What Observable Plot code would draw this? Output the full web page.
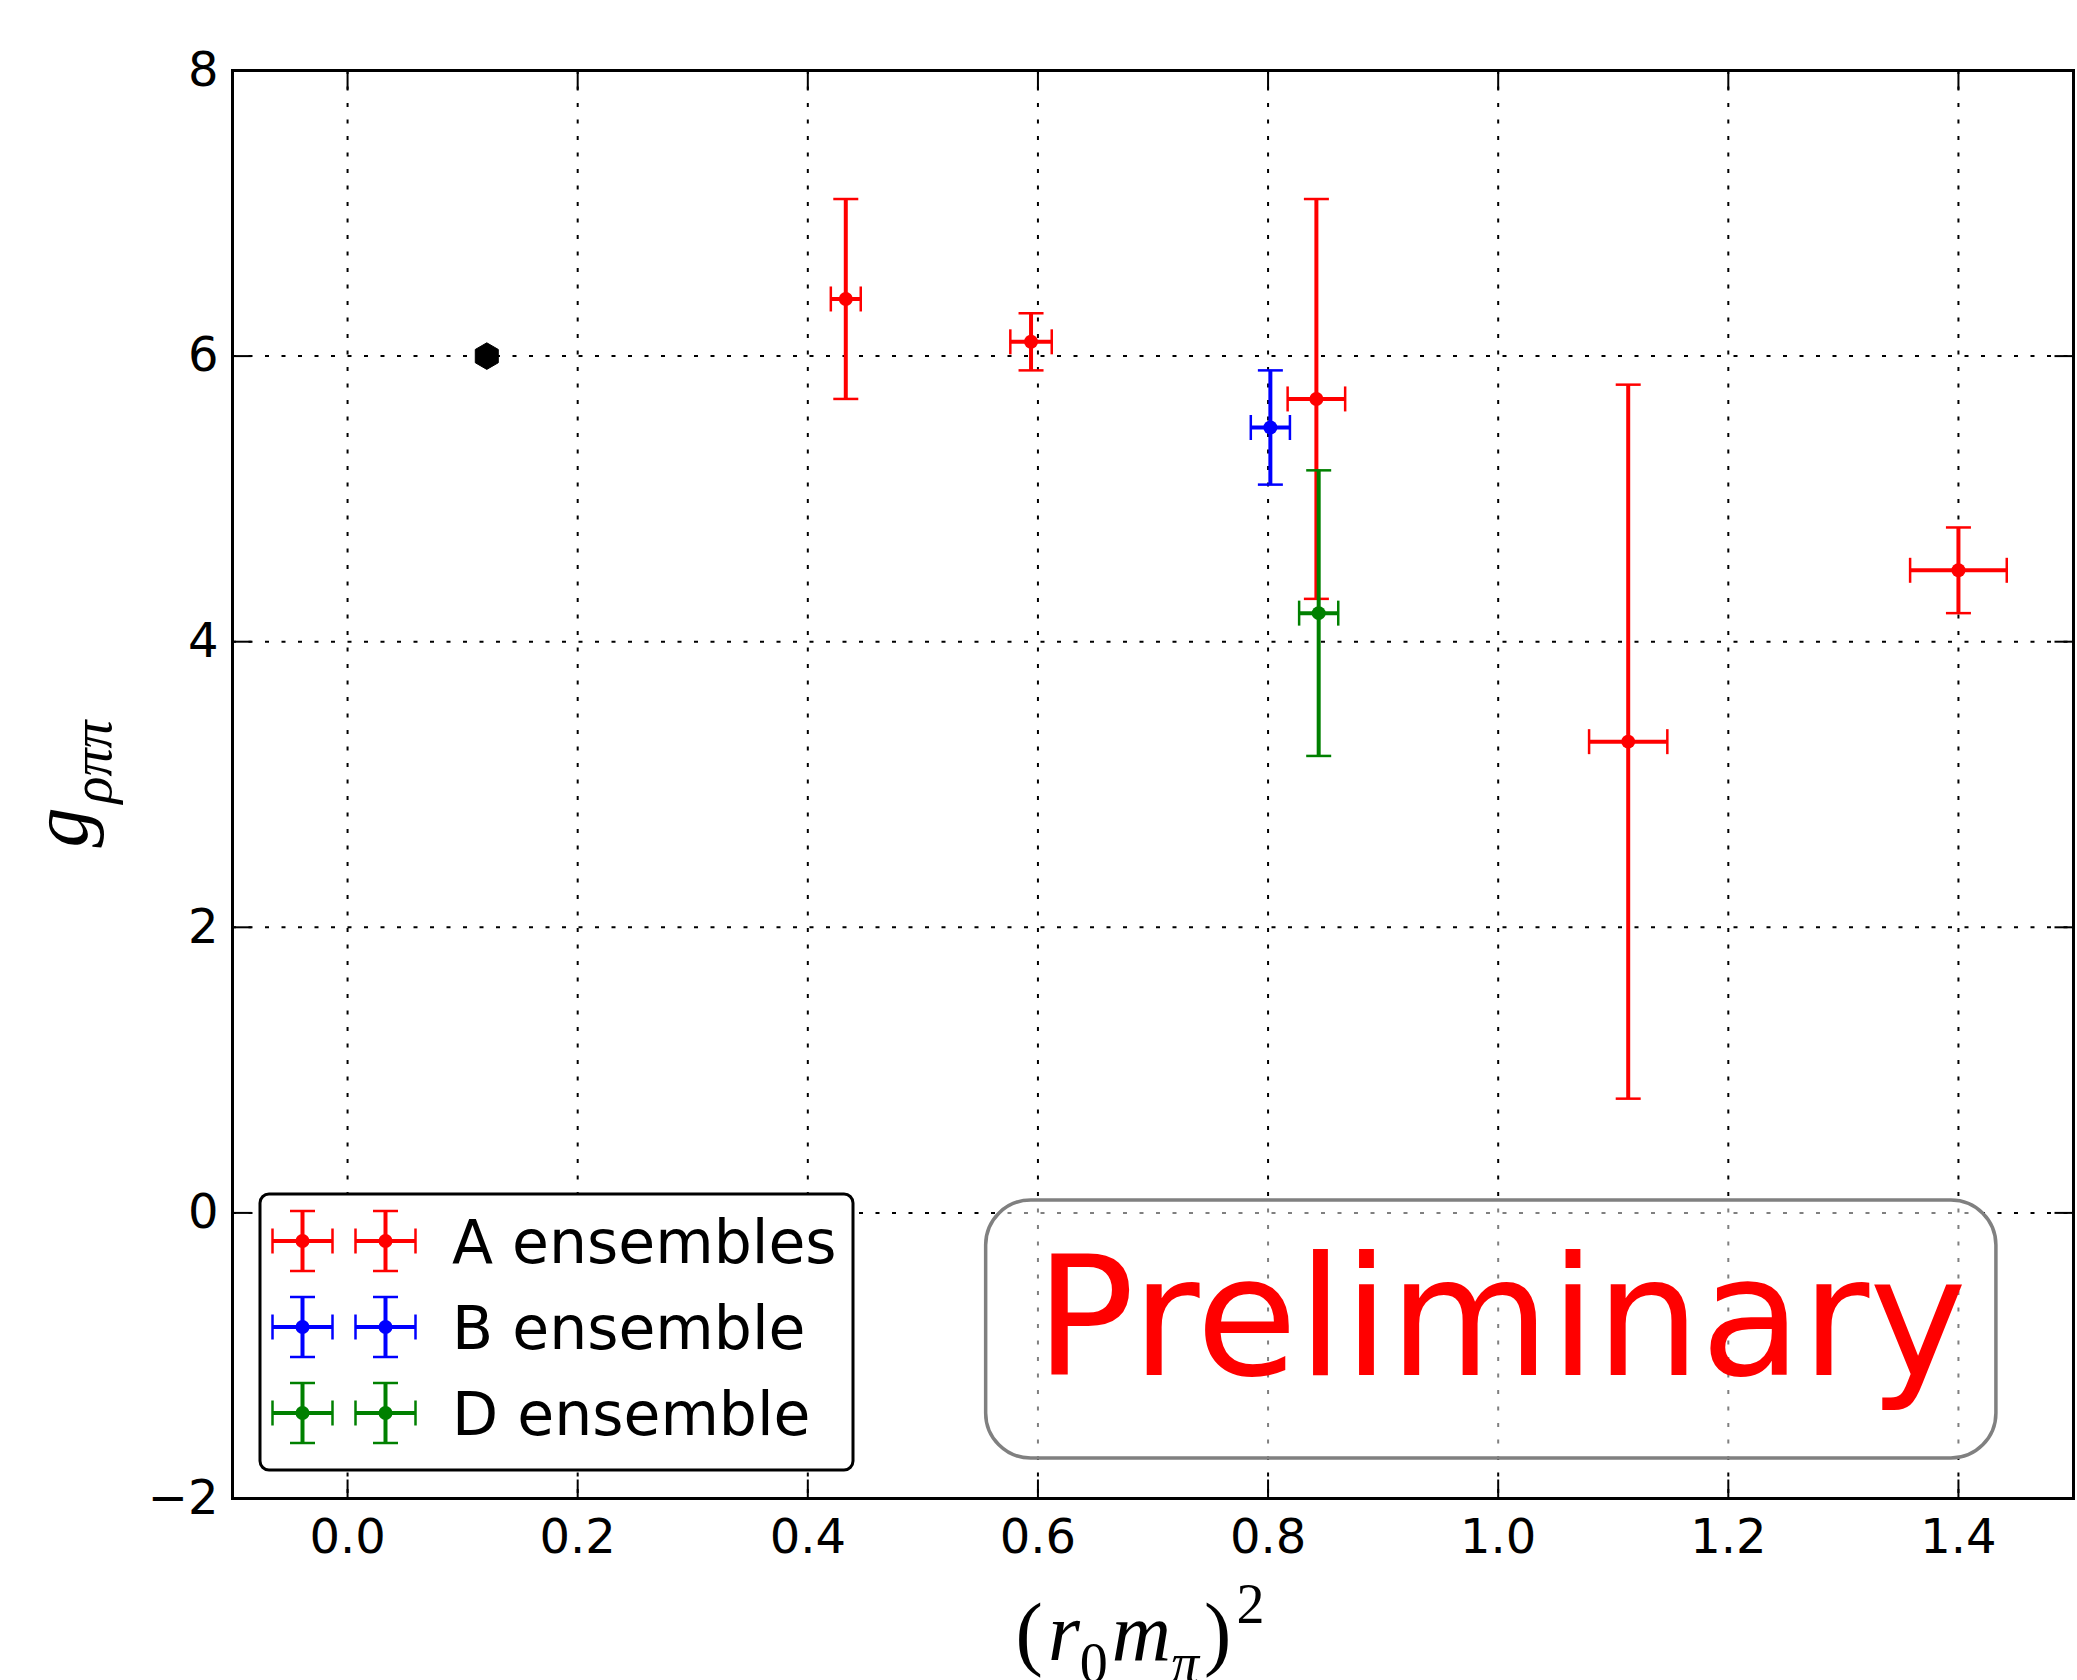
<!DOCTYPE html>
<html>
<head>
<meta charset="utf-8">
<script src="https://cdn.jsdelivr.net/npm/d3@7"></script>
<script src="https://cdn.jsdelivr.net/npm/@observablehq/plot@0.6"></script>
<style>
  html, body { margin: 0; padding: 0; background: #ffffff; overflow: hidden; }
  svg { display: block; }
</style>
</head>
<body>
<div id="chart"></div>
<script>
// ---------------- DATA ----------------
const seriesNames = ["A ensembles", "B ensemble", "D ensemble"];
const seriesColors = ["#ff0000", "#0000ff", "#008000"];

// A ensembles
const aX    = [0.433, 0.594, 0.842, 1.113, 1.400];
const aXErr = [0.013, 0.018, 0.025, 0.034, 0.042];
const aY    = [6.40, 6.10, 5.70, 3.30, 4.50];
const aYLo  = [5.70, 5.90, 4.30, 0.80, 4.20];
const aYHi  = [7.10, 6.30, 7.10, 5.80, 4.80];

// B ensemble
const bX    = [0.802];
const bXErr = [0.017];
const bY    = [5.50];
const bYLo  = [5.10];
const bYHi  = [5.90];

// D ensemble
const dX    = [0.844];
const dXErr = [0.017];
const dY    = [4.20];
const dYLo  = [3.20];
const dYHi  = [5.20];

// physical point (black hexagon)
const physX = [0.121];
const physY = [6.0];

// axes
const xDomain = [-0.1, 1.5];
const yDomain = [-2, 8];
const xTicks = [0.0, 0.2, 0.4, 0.6, 0.8, 1.0, 1.2, 1.4];
const yTicks = [-2, 0, 2, 4, 6, 8];

// annotation ("Preliminary" box), in data units
const prelimText = "Preliminary";
const prelimBoxX = [0.555, 1.433];
const prelimBoxY = [-1.72, 0.087];
const prelimTextPos = [1.003, -1.14];

// ---------------- LAYOUT ----------------
const W = 2077, H = 1680;
const mL = 232, mR = 4, mT = 70, mB = 182;
const FONT = "'DejaVu Sans', 'Liberation Sans', sans-serif";
const MATH = "'Liberation Serif', 'DejaVu Serif', serif";

function rowsFor(xs, xe, ys, ylo, yhi) {
  return xs.map((x, i) => ({x, xlo: x - xe[i], xhi: x + xe[i], y: ys[i], ylo: ylo[i], yhi: yhi[i]}));
}
const seriesRows = [
  rowsFor(aX, aXErr, aY, aYLo, aYHi),
  rowsFor(bX, bXErr, bY, bYLo, bYHi),
  rowsFor(dX, dXErr, dY, dYLo, dYHi)
];
const physRows = physX.map((x, i) => ({x, y: physY[i]}));

// custom symbols
const capHSym = {draw(ctx, size) { const r = Math.sqrt(size / Math.PI); ctx.moveTo(-r, 0); ctx.lineTo(r, 0); }};
const capVSym = {draw(ctx, size) { const r = Math.sqrt(size / Math.PI); ctx.moveTo(0, -r); ctx.lineTo(0, r); }};
const tickUp    = {draw(ctx, size) { const r = Math.sqrt(size / Math.PI); ctx.moveTo(0, 0); ctx.lineTo(0, -r); }};
const tickDown  = {draw(ctx, size) { const r = Math.sqrt(size / Math.PI); ctx.moveTo(0, 0); ctx.lineTo(0, r); }};
const tickRight = {draw(ctx, size) { const r = Math.sqrt(size / Math.PI); ctx.moveTo(0, 0); ctx.lineTo(r, 0); }};
const tickLeft  = {draw(ctx, size) { const r = Math.sqrt(size / Math.PI); ctx.moveTo(0, 0); ctx.lineTo(-r, 0); }};

function errMarks(rows, color) {
  return [
    Plot.ruleX(rows, {x: "x", y1: "ylo", y2: "yhi", stroke: color, strokeWidth: 4}),
    Plot.ruleY(rows, {y: "y", x1: "xlo", x2: "xhi", stroke: color, strokeWidth: 4}),
    Plot.dot(rows, {x: "x", y: "ylo", symbol: capHSym, r: 12.5, stroke: color, strokeWidth: 2.5, fill: "none"}),
    Plot.dot(rows, {x: "x", y: "yhi", symbol: capHSym, r: 12.5, stroke: color, strokeWidth: 2.5, fill: "none"}),
    Plot.dot(rows, {x: "xlo", y: "y", symbol: capVSym, r: 12.5, stroke: color, strokeWidth: 2.5, fill: "none"}),
    Plot.dot(rows, {x: "xhi", y: "y", symbol: capVSym, r: 12.5, stroke: color, strokeWidth: 2.5, fill: "none"}),
    Plot.dot(rows, {x: "x", y: "y", r: 7, fill: color, stroke: "none"})
  ];
}

const gridStyle = {stroke: "black", strokeOpacity: 1, strokeWidth: 2, strokeDasharray: "4,12.5"};
const tickStyle = {r: 19, stroke: "black", strokeWidth: 2, fill: "none"};

const plot = Plot.plot({
  width: W, height: H,
  marginLeft: mL, marginRight: mR, marginTop: mT, marginBottom: mB,
  style: {fontFamily: FONT, fontSize: "48px", color: "black", background: "white"},
  x: {domain: xDomain},
  y: {domain: yDomain},
  marks: [
    Plot.gridX({ticks: xTicks, ...gridStyle}),
    Plot.gridY({ticks: yTicks, ...gridStyle}),
    ...seriesRows.flatMap((rows, i) => errMarks(rows, seriesColors[i])),
    Plot.dot(physRows, {x: "x", y: "y", symbol: "hexagon", r: 11.5, fill: "black", stroke: "black", strokeWidth: 1}),
    Plot.frame({stroke: "black", strokeWidth: 3}),
    Plot.dot(xTicks, {x: d => d, frameAnchor: "bottom", symbol: tickUp, ...tickStyle}),
    Plot.dot(xTicks, {x: d => d, frameAnchor: "top", symbol: tickDown, ...tickStyle}),
    Plot.dot(yTicks, {y: d => d, frameAnchor: "left", symbol: tickRight, ...tickStyle}),
    Plot.dot(yTicks, {y: d => d, frameAnchor: "right", symbol: tickLeft, ...tickStyle}),
    Plot.axisX({ticks: xTicks, tickSize: 0, tickPadding: 20, tickFormat: d3.format(".1f"), label: null, fontSize: 48}),
    Plot.axisY({ticks: yTicks, tickSize: 0, tickPadding: 14, label: null, fontSize: 48})
  ]
});

document.getElementById("chart").appendChild(plot);

const svg = d3.select(plot);
const sx = plot.scale("x"), sy = plot.scale("y");

// ---------- "Preliminary" annotation ----------
{
  const bx0 = sx.apply(prelimBoxX[0]), bx1 = sx.apply(prelimBoxX[1]);
  const by0 = sy.apply(prelimBoxY[1]), by1 = sy.apply(prelimBoxY[0]);
  const g = svg.append("g");
  g.append("rect")
    .attr("x", bx0).attr("y", by0)
    .attr("width", bx1 - bx0).attr("height", by1 - by0)
    .attr("rx", 45).attr("ry", 45)
    .attr("fill", "white").attr("fill-opacity", 0.5)
    .attr("stroke", "#808080").attr("stroke-width", 3.5);
  g.append("text")
    .attr("x", sx.apply(prelimTextPos[0])).attr("y", sy.apply(prelimTextPos[1]))
    .attr("text-anchor", "middle")
    .attr("font-family", FONT).attr("font-size", 165)
    .attr("fill", "#ff0000")
    .text(prelimText);
}

// ---------- Legend ----------
{
  const lx = mL + 28, lw = 593, lh = 276;
  const ly = H - mB - 28 - lh;
  const g = svg.append("g");
  g.append("rect")
    .attr("x", lx).attr("y", ly).attr("width", lw).attr("height", lh)
    .attr("rx", 9).attr("ry", 9)
    .attr("fill", "white").attr("stroke", "black").attr("stroke-width", 3);
  seriesNames.forEach((name, i) => {
    const cy = ly + 47 + i * 86;
    const color = seriesColors[i];
    [lx + 42.5, lx + 125.5].forEach(cx => {
      const e = g.append("g").attr("stroke", color);
      e.append("line").attr("x1", cx).attr("x2", cx).attr("y1", cy - 30).attr("y2", cy + 30).attr("stroke-width", 4);
      e.append("line").attr("x1", cx - 30).attr("x2", cx + 30).attr("y1", cy).attr("y2", cy).attr("stroke-width", 4);
      e.append("line").attr("x1", cx - 12.5).attr("x2", cx + 12.5).attr("y1", cy - 30).attr("y2", cy - 30).attr("stroke-width", 2.5);
      e.append("line").attr("x1", cx - 12.5).attr("x2", cx + 12.5).attr("y1", cy + 30).attr("y2", cy + 30).attr("stroke-width", 2.5);
      e.append("line").attr("x1", cx - 30).attr("x2", cx - 30).attr("y1", cy - 12.5).attr("y2", cy + 12.5).attr("stroke-width", 2.5);
      e.append("line").attr("x1", cx + 30).attr("x2", cx + 30).attr("y1", cy - 12.5).attr("y2", cy + 12.5).attr("stroke-width", 2.5);
      g.append("circle").attr("cx", cx).attr("cy", cy).attr("r", 7).attr("fill", color);
    });
    g.append("text")
      .attr("x", lx + 192).attr("y", cy + 22)
      .attr("text-anchor", "start")
      .attr("font-family", FONT).attr("font-size", 60).attr("fill", "black")
      .text(name);
  });
}

// ---------- Axis labels (math style) ----------
{
  // y label: g_{ρππ}
  const yl = svg.append("text")
    .attr("transform", `translate(87,${(mT + H - mB) / 2}) rotate(-90)`)
    .attr("text-anchor", "middle")
    .attr("font-family", MATH).attr("fill", "black");
  yl.append("tspan").attr("font-style", "italic").attr("font-size", 80).text("g");
  yl.append("tspan").attr("font-style", "italic").attr("font-size", 56).attr("dx", 4).attr("dy", 24).text("ρππ");

  // x label: (r_0 m_π)^2
  const xl = svg.append("text")
    .attr("x", 1140).attr("y", 1660)
    .attr("text-anchor", "middle")
    .attr("font-family", MATH).attr("fill", "black");
  xl.append("tspan").attr("font-size", 82).text("(");
  xl.append("tspan").attr("font-size", 82).attr("font-style", "italic").attr("dx", 5).text("r");
  xl.append("tspan").attr("font-size", 56).attr("dy", 22).text("0");
  xl.append("tspan").attr("font-size", 82).attr("font-style", "italic").attr("dx", 4).attr("dy", -22).text("m");
  xl.append("tspan").attr("font-size", 56).attr("font-style", "italic").attr("dy", 22).text("π");
  xl.append("tspan").attr("font-size", 82).attr("dx", 5).attr("dy", -22).text(")");
  xl.append("tspan").attr("font-size", 56).attr("dx", 5).attr("dy", -37).text("2");
}
</script>
</body>
</html>
